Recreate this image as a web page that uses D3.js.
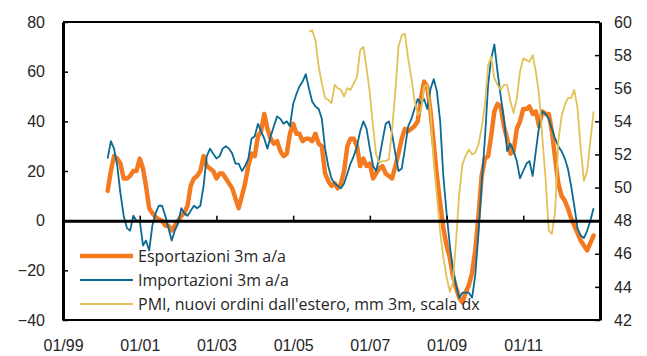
<!DOCTYPE html>
<html>
<head>
<meta charset="utf-8">
<script src="https://cdn.jsdelivr.net/npm/d3@7"></script>
<style>
  html, body { margin: 0; padding: 0; background: #fff; }
  svg { display: block; font-family: "Open Sans", "Noto Sans", sans-serif; }
  .tick text { fill: #262626; font-size: 16px; }
  .legend text { fill: #262626; font-size: 16px; }
</style>
</head>
<body>
<svg id="chart" width="647" height="356"></svg>
<script>
// Export / import growth (3m y/y, left axis) and PMI new export orders (3m avg, right axis)
const exportsStart = [2000, 2];   // first month of the exports series (year, month index)
const exportsValues = [
  12, 20, 26, 25, 23, 17, 17, 18, 20, 20, 25, 21, 14, 5, 3, 1.5, 0.5, 0, -2, -2, -4, -2, 0, 2, 3, 6, 14, 17, 18, 20, 26, 22,
  21, 20, 17, 19, 19, 17, 15, 13, 9, 5, 10, 15, 22, 27, 26, 34, 36, 43, 37, 33, 31, 32, 28, 26, 27, 35, 39, 35, 35, 32, 33, 33,
  32, 35, 31, 30, 19, 16, 14, 15, 13, 15, 20, 30, 33, 33, 30, 22, 25, 22, 23, 17, 19, 21, 22, 19, 18, 17, 22, 27,
  33, 37, 36, 37, 38, 40, 49, 56, 54, 44, 31, 18, 7, -3, -10, -15, -22, -27, -31, -33, -29, -26, -21, -12, 2, 18, 25,
  26, 34, 44, 47, 46, 38, 33, 27, 28, 37, 40, 45, 45, 46, 43, 44, 38, 44, 43, 43, 36, 25, 15, 10, 8, 5, 1, -2, -5, -8, -10, -12, -9, -6
];

const importsStart = [2000, 2];
const importsValues = [
  25, 32, 29, 22, 11, 2, -3, -4, 2, 0, 0, -10, -8, -12, -2, 3, 6, 6, 2, -3, -8, -4, -1, 5, 3, 2, 4, 6, 5, 6, 14, 26,
  29, 27, 25, 26, 29, 30, 29, 27, 23, 23, 20, 22, 25, 33, 34, 39, 36, 33, 29, 34, 38, 42, 41, 39, 40, 38, 47, 51, 54, 56, 59, 53,
  48, 46, 45, 41, 29, 22, 17, 15, 14, 13, 15, 19, 23, 26, 30, 36, 40, 37, 29, 22, 20, 25, 32, 39, 40, 35, 27, 20,
  21, 29, 38, 41, 45, 49, 47, 49, 45, 53, 57, 52, 40, 18, 3, -10, -19, -26, -31, -29, -29, -29, -31, -22, -5, 15, 33,
  55, 65, 71, 60, 50, 41, 28, 31, 28, 24, 17, 20, 23, 24, 18, 28, 38, 44, 43, 41, 37, 33, 30, 28, 25, 21, 14, 6, -3, -6, -7, -4, 0, 5
];

const pmiStart = [2005, 5];
const pmiValues = [
  59.4, 59.5, 58.9, 57.3, 56.3, 55.4, 55.3, 55.1, 56.2, 56.0, 55.9, 55.5, 56.0, 55.9, 56.3, 56.7, 58.3, 58.5, 57.2, 55.7,
  53.7, 52.0, 51.5, 51.6, 51.6, 51.7, 53.5, 55.8, 58.5,
  59.2, 59.3, 57.8, 56.6, 55.3, 54.4, 54.6, 56.1, 56.2, 54.6, 51.5, 49.5, 47.3, 45.8, 44.6, 43.7, 44.2, 46.8, 49.6, 51.4,
  51.9, 52.3, 52.0, 52.1, 52.6, 53.6, 55.0, 57.4, 57.9, 56.6, 56.2, 55.9, 56.2, 56.2, 55.2, 54.5, 55.4, 57.0, 57.8, 57.7,
  57.6, 58.0, 57.0, 55.6, 53.1, 50.6, 47.4, 47.2, 48.6, 52.8, 54.3, 55.0, 55.4, 55.4, 55.9, 54.8, 52.4, 50.4, 51.0, 52.8, 54.6
];

const leftTicks = [-40, -20, 0, 20, 40, 60, 80];
const rightTicks = [42, 44, 46, 48, 50, 52, 54, 56, 58, 60];
const xTickYears = [1999, 2001, 2003, 2005, 2007, 2009, 2011];

const seriesNames = [
  "Esportazioni 3m a/a",
  "Importazioni 3m a/a",
  "PMI, nuovi ordini dall'estero, mm 3m, scala dx"
];
const colors = { exp: "#F47A20", imp: "#0B6A93", pmi: "#E2C256" };

function toPoints(start, values) {
  return values.map((v, i) => ({ date: new Date(start[0], start[1] + i, 1), value: v }));
}
const expData = toPoints(exportsStart, exportsValues);
const impData = toPoints(importsStart, importsValues);
const pmiData = toPoints(pmiStart, pmiValues);

const svg = d3.select("#chart");
const plot = { left: 63, right: 600, top: 22, bottom: 320 };

const x = d3.scaleTime()
  .domain([new Date(1999, 0, 1), new Date(2013, 0, 1)])
  .range([plot.left, plot.right]);
const yL = d3.scaleLinear().domain([-40, 80]).range([plot.bottom, plot.top]);
const yR = d3.scaleLinear().domain([42, 60]).range([plot.bottom, plot.top]);

// frame: top and bottom borders
svg.append("line").attr("x1", plot.left).attr("x2", plot.right)
  .attr("y1", plot.top).attr("y2", plot.top)
  .attr("stroke", "#000").attr("stroke-width", 2);
svg.append("line").attr("x1", plot.left).attr("x2", plot.right)
  .attr("y1", plot.bottom).attr("y2", plot.bottom)
  .attr("stroke", "#000").attr("stroke-width", 2);

// series lines
const lineL = d3.line().x(d => x(d.date)).y(d => yL(d.value));
const lineR = d3.line().x(d => x(d.date)).y(d => yR(d.value));

svg.append("path").datum(expData).attr("d", lineL)
  .attr("fill", "none").attr("stroke", colors.exp).attr("stroke-width", 4.5)
  .attr("stroke-linejoin", "round").attr("stroke-linecap", "round");
svg.append("path").datum(impData).attr("d", lineL)
  .attr("fill", "none").attr("stroke", colors.imp).attr("stroke-width", 1.8)
  .attr("stroke-linejoin", "round");
svg.append("path").datum(pmiData).attr("d", lineR)
  .attr("fill", "none").attr("stroke", colors.pmi).attr("stroke-width", 1.8)
  .attr("stroke-linejoin", "round");

// zero line with date ticks pointing up
const zeroAxis = svg.append("g")
  .attr("transform", `translate(0,${yL(0)})`)
  .call(d3.axisBottom(x)
    .tickValues(xTickYears.map(yr => new Date(yr, 0, 1)))
    .tickSizeInner(-5).tickSizeOuter(0).tickFormat(""));
zeroAxis.select(".domain").attr("stroke", "#000").attr("stroke-width", 3);
zeroAxis.selectAll(".tick line").attr("stroke", "#000").attr("stroke-width", 1.5);

// date labels below the plot
const labelAxis = svg.append("g")
  .attr("transform", `translate(0,${plot.bottom})`)
  .call(d3.axisBottom(x)
    .tickValues(xTickYears.map(yr => new Date(yr, 0, 1)))
    .tickSize(0).tickPadding(20)
    .tickFormat(d3.timeFormat("%m/%y")));
labelAxis.select(".domain").remove();

// left axis
const leftAxis = svg.append("g")
  .attr("transform", `translate(${plot.left},0)`)
  .call(d3.axisLeft(yL).tickValues(leftTicks).tickSizeInner(-5).tickSizeOuter(0).tickPadding(18));
leftAxis.select(".domain").attr("stroke", "#000").attr("stroke-width", 3);
leftAxis.selectAll(".tick line").attr("stroke", "#000").attr("stroke-width", 1.5);

// right axis
const rightAxis = svg.append("g")
  .attr("transform", `translate(${plot.right},0)`)
  .call(d3.axisRight(yR).tickValues(rightTicks).tickSizeInner(-5).tickSizeOuter(0).tickPadding(14));
rightAxis.select(".domain").attr("stroke", "#000").attr("stroke-width", 3);
rightAxis.selectAll(".tick line").attr("stroke", "#000").attr("stroke-width", 1.5);

// legend
const legendRows = [
  { name: seriesNames[0], color: colors.exp, width: 4.5, y: 256 },
  { name: seriesNames[1], color: colors.imp, width: 1.8, y: 280 },
  { name: seriesNames[2], color: colors.pmi, width: 1.8, y: 304 }
];
const legend = svg.append("g").attr("class", "legend");
legendRows.forEach(r => {
  legend.append("line").attr("x1", 80).attr("x2", 133).attr("y1", r.y).attr("y2", r.y)
    .attr("stroke", r.color).attr("stroke-width", r.width);
  legend.append("text").attr("x", 138).attr("y", r.y).attr("dy", "0.35em").text(r.name);
});
</script>
</body>
</html>
